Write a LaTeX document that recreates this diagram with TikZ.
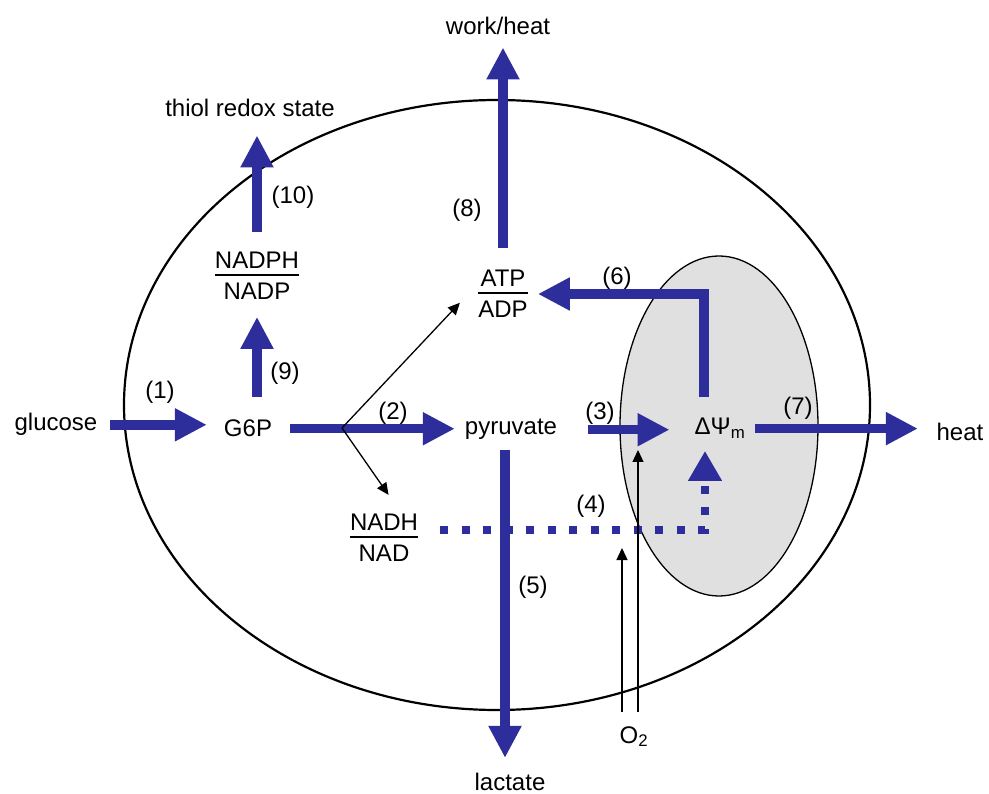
\documentclass[tikz,border=0pt]{standalone}
\usepackage{fontspec}
\setmainfont{Liberation Sans}
\usetikzlibrary{arrows.meta}

\definecolor{flowblue}{RGB}{45,45,155}
\definecolor{matrixgray}{RGB}{224,224,224}
\newcommand{\ratio}[2]{{\renewcommand{\arraystretch}{0.1}\setlength{\arrayrulewidth}{1.6pt}%
  \begin{tabular}{@{}c@{}}\rule[-6pt]{0pt}{6pt}#1\\\hline\rule{0pt}{24pt}#2\end{tabular}}}

\begin{document}
\begin{tikzpicture}[
  x=1pt,y=-1pt,
  font=\fontsize{24}{28}\selectfont,
  inner sep=2pt,
  num/.style={font=\fontsize{24}{28}\selectfont},
  flow/.style={draw=flowblue,line width=9.5pt,-{Triangle[length=32pt,width=31pt]}},
  dots/.style={draw=flowblue,line width=8pt,dash pattern=on 8pt off 13.5pt,-{Triangle[length=30pt,width=32pt]}},
  link/.style={line width=1.3pt,-{Triangle[length=12pt,width=11pt]}}
]
\useasboundingbox (0,0) rectangle (989,794);
% cell and mitochondrion
\draw[line width=2.2pt] (497,405) ellipse [x radius=373pt,y radius=305pt];
\draw[line width=1.3pt,fill=matrixgray] (719,426) ellipse [x radius=99pt,y radius=170pt];

% metabolites
\node[anchor=base] (glucose) at (56,431) {glucose};
\node[anchor=base] (g6p) at (248,437) {G6P};
\node[anchor=base] (pyruvate) at (511,435) {pyruvate};
\node[anchor=base] (dpsi) at (720,435) {ΔΨ\textsubscript{m}};
\node[anchor=base] (heat) at (960,441) {heat};
\node[anchor=base] (lactate) at (510,790) {lactate};
\node[anchor=base] (o2) at (634,743) {O\textsubscript{2}};
\node[anchor=base] (work) at (498,35) {work/heat};
\node[anchor=base] (thiol) at (250,117) {thiol redox state};
\node (nadph) at (257,276) {\ratio{NADPH}{NADP}};
\node (atp) at (503,294) {\ratio{ATP}{ADP}};
\node (nadh) at (384,538) {\ratio{NADH}{NAD}};

\coordinate (fork) at (342,428);
\coordinate (o2left) at (622,548);
\coordinate (o2right) at (638,450);

% fluxes
\draw[flow,shorten <=10.6pt,shorten >=15pt] (glucose.east) -- (glucose.east -| g6p.west);
\draw[flow,shorten <=16pt,shorten >=8pt] (g6p.east) -- (g6p.east -| pyruvate.west);
\draw[flow,shorten <=29pt,shorten >=23pt] (pyruvate.east) -- (pyruvate.east -| dpsi.west);
\draw[dots,shorten <=20pt,shorten >=10pt] ([yshift=8pt]nadh.east) -| ([xshift=-15pt]dpsi.south);
\draw[flow,shorten <=8pt,shorten >=12.5pt] ([xshift=-6pt]pyruvate.south) -- ([xshift=-6pt]pyruvate.south |- lactate.north);
\draw[flow,shorten <=18.8pt,shorten >=8pt] ([xshift=-16pt]dpsi.north) |- (atp.east);
\draw[flow,shorten <=8pt,shorten >=16.6pt] (dpsi.east) -- (dpsi.east -| heat.west);
\draw[flow,shorten <=19.2pt,shorten >=10pt] (atp.north) -- (atp.north |- work.south);
\draw[flow,shorten <=20.8pt,shorten >=14.2pt] (g6p.north -| nadph.south) -- (nadph.south);
\draw[flow,shorten <=17.2pt,shorten >=16pt] (nadph.north) -- (nadph.north |- thiol.south);

% side links
\draw[link,shorten >=12pt] (fork) -- ([xshift=-8pt]atp.west);
\draw[link,shorten >=20pt] (fork) -- ([xshift=16pt]nadh.north);
\draw[link,shorten <=11.8pt] (o2.north -| o2left) -- (o2left);
\draw[link,shorten <=11.8pt] (o2.north -| o2right) -- (o2right);

% step numbers
\node[num] (n1) at (160,392) {(1)};
\node[num] (n2) at (393,413) {(2)};
\node[num] (n3) at (600,413) {(3)};
\node[num] (n4) at (591,506) {(4)};
\node[num] (n5) at (533,587) {(5)};
\node[num] (n6) at (617,278) {(6)};
\node[num] (n7) at (798,408) {(7)};
\node[num] (n8) at (467,210) {(8)};
\node[num] (n9) at (285,373) {(9)};
\node[num] (n10) at (293,197) {(10)};
\end{tikzpicture}
\end{document}
